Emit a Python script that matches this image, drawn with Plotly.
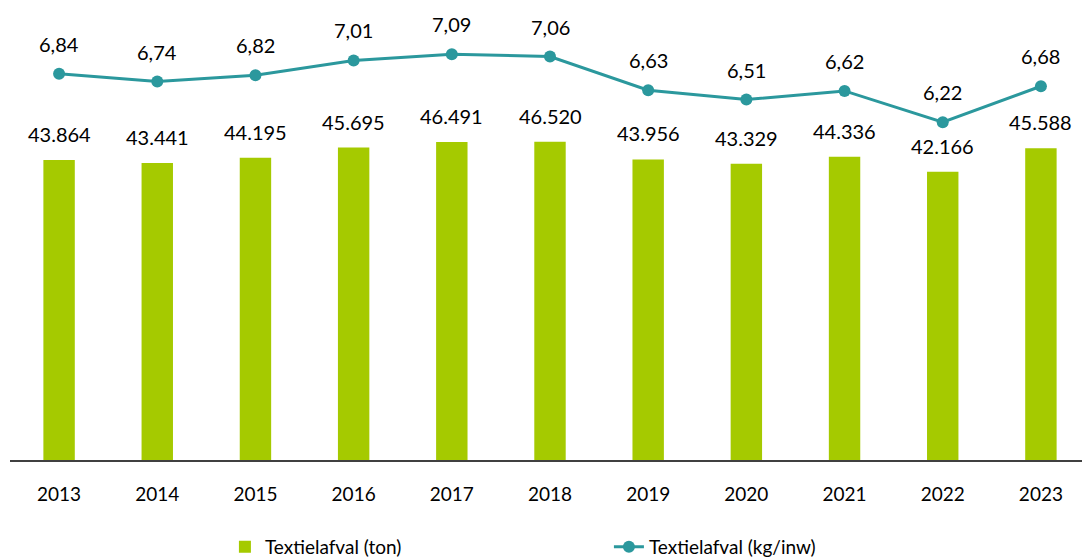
import plotly.graph_objects as go

years = ['2013', '2014', '2015', '2016', '2017', '2018', '2019', '2020', '2021', '2022', '2023']
ton = [43864, 43441, 44195, 45695, 46491, 46520, 43956, 43329, 44336, 42166, 45588]
kg_per_inw = [6.84, 6.74, 6.82, 7.01, 7.09, 7.06, 6.63, 6.51, 6.62, 6.22, 6.68]

bar_color = '#A5CA00'
line_color = '#2B989D'
font_name = 'Lato'


def nl_thousands(v):
    return f'{v:,}'.replace(',', '.')


def nl_decimal(v):
    return f'{v:.2f}'.replace('.', ',')


fig = go.Figure()

fig.add_trace(go.Bar(x=years, y=ton, name='Textielafval (ton)', marker=dict(color=bar_color, line=dict(width=0)),
                     width=0.32, yaxis='y'))
fig.add_trace(go.Scatter(x=years, y=kg_per_inw, name='Textielafval (kg/inw)', mode='lines+markers',
                         line=dict(color=line_color, width=3), marker=dict(color=line_color, size=12),
                         yaxis='y2'))

# data labels as annotations, so the gap above the marks can be tuned
# (x given as category index: a year string would be read as index 2013)
for i, v in enumerate(ton):
    fig.add_annotation(x=i, y=v, yref='y', text=nl_thousands(v), showarrow=False,
                       yanchor='bottom', yshift=12, font=dict(size=20, color='#000000', family=font_name))
for i, v in enumerate(kg_per_inw):
    fig.add_annotation(x=i, y=v, yref='y2', text=nl_decimal(v), showarrow=False,
                       yanchor='bottom', yshift=16, font=dict(size=20, color='#000000', family=font_name))

# page body has an 8px margin, so the figure is sized 8px smaller than the window
fig.update_layout(width=1082, height=551, margin=dict(l=2, r=0, t=2, b=99, autoexpand=False),
                  plot_bgcolor='#ffffff', paper_bgcolor='#ffffff',
                  font=dict(family=font_name, size=19, color='#000000'),
                  legend=dict(orientation='h', x=0.199, xanchor='left', y=-0.193, yanchor='middle',
                              entrywidth=339, entrywidthmode='pixels', font=dict(size=19)),
                  yaxis=dict(range=[0, 65800], visible=False, showgrid=False),
                  yaxis2=dict(range=[1.9, 7.655], overlaying='y', side='right', visible=False, showgrid=False))

fig.update_xaxes(type='category', range=[-0.5, len(years) - 0.5], showline=True, linecolor='#404040',
                 linewidth=2, showgrid=False, ticks='', ticklabelstandoff=16, tickfont=dict(size=19),
                 automargin=False)

fig.write_html('out.html')
